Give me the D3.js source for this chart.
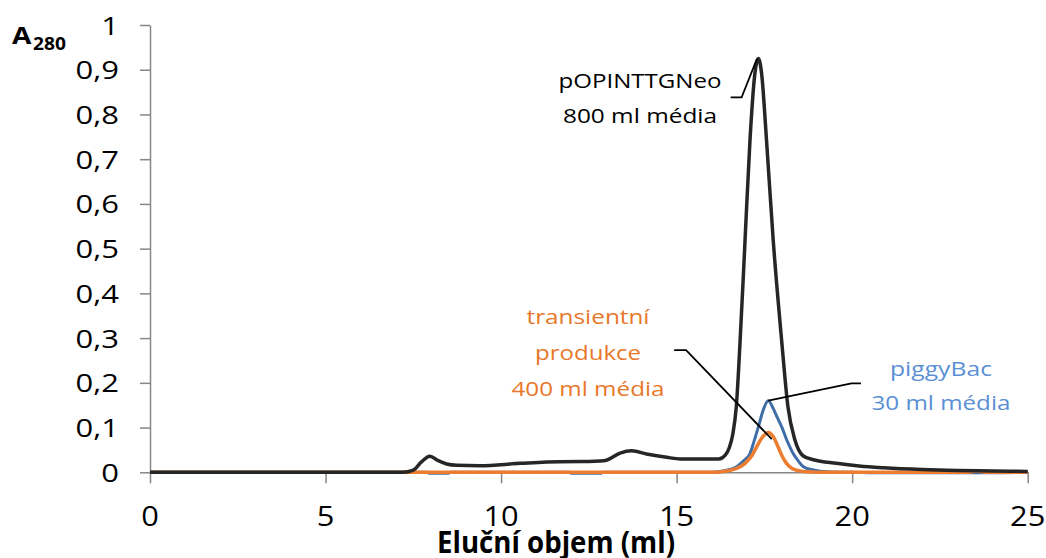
<!DOCTYPE html>
<html>
<head>
<meta charset="utf-8">
<script src="https://cdn.jsdelivr.net/npm/d3@7"></script>
<style>
  body { margin: 0; background: #fff; }
  svg { display: block; }
  text { font-family: "Open Sans", sans-serif; }
</style>
</head>
<body>
<div id="chart"></div>
<script>
// axis ticks
const xTicks = [0, 5, 10, 15, 20, 25];
const yTicks = [0, 0.1, 0.2, 0.3, 0.4, 0.5, 0.6, 0.7, 0.8, 0.9, 1];

// pOPINTTGNeo, 800 ml média
const neoVolume = [0, 7.2, 7.5, 7.74, 7.97, 8.21, 8.45, 8.74, 9.4, 10.54, 11.68, 12.5, 12.82, 13.0, 13.39, 13.72, 14.14, 14.72, 15.1, 15.66, 16.2, 16.38, 16.5, 16.6, 16.7, 16.81, 16.95, 17.09, 17.23, 17.33, 17.42, 17.56, 17.75, 17.99, 18.17, 18.37, 18.6, 18.9, 19.55, 20.2, 20.9, 22, 23, 24, 25];
const neoA280 = [0, 0, 0.005, 0.024, 0.036, 0.026, 0.0186, 0.0157, 0.0148, 0.020, 0.0237, 0.024, 0.025, 0.027, 0.043, 0.048, 0.041, 0.0335, 0.030, 0.030, 0.030, 0.038, 0.055, 0.085, 0.147, 0.296, 0.52, 0.743, 0.892, 0.925, 0.892, 0.743, 0.52, 0.296, 0.147, 0.072, 0.037, 0.028, 0.020, 0.014, 0.010, 0.006, 0.004, 0.003, 0.002];

// piggyBac, 30 ml média
const piggyVolume = [0, 7.9, 7.95, 8.5, 8.55, 11.95, 12.0, 12.85, 12.9, 16.0, 16.4, 16.71, 16.9, 17.09, 17.2, 17.33, 17.47, 17.61, 17.75, 17.87, 17.99, 18.15, 18.32, 18.47, 18.61, 18.9, 19.27, 20, 21, 22, 23.3, 24, 25];
const piggyA280 = [0, 0, -0.002, -0.002, 0, 0, -0.002, -0.002, 0, 0, 0.004, 0.0125, 0.025, 0.042, 0.068, 0.102, 0.14, 0.160, 0.143, 0.122, 0.102, 0.07, 0.042, 0.025, 0.0125, 0.005, 0.001, 0, -0.001, -0.001, -0.001, -0.001, 0];

// transientní produkce, 400 ml média
const transVolume = [0, 16.0, 16.3, 16.6, 16.95, 17.15, 17.28, 17.45, 17.61, 17.75, 17.89, 18.0, 18.13, 18.28, 18.41, 18.7, 19.0, 20, 23.3, 23.55, 23.8, 25];
const transA280 = [0, 0, 0.002, 0.006, 0.02, 0.038, 0.057, 0.079, 0.089, 0.080, 0.057, 0.037, 0.02, 0.009, 0.005, 0.001, 0, 0, 0, 0.003, 0, 0];

const neoLabel = ["pOPINTTGNeo", "800 ml média"];
const transLabel = ["transientní", "produkce", "400 ml média"];
const piggyLabel = ["piggyBac", "30 ml média"];

const width = 1046, height = 558;
const svg = d3.select("#chart").append("svg")
    .attr("width", width)
    .attr("height", height);

const x = d3.scaleLinear().domain([0, 25]).range([150, 1027.7]);
const y = d3.scaleLinear().domain([0, 1]).range([472.3, 25]);
const axisColor = "#868686";
const fmt = d => (d === 0 || d === 1) ? String(d) : d.toFixed(1).replace(".", ",");

// axes
const gx = svg.append("g")
    .attr("transform", `translate(0,${y(0)})`)
    .call(d3.axisBottom(x).tickValues(xTicks).tickSize(11).tickSizeOuter(0).tickFormat(""));
const gy = svg.append("g")
    .attr("transform", `translate(${x(0)},0)`)
    .call(d3.axisLeft(y).tickValues(yTicks).tickSize(10).tickSizeOuter(0).tickFormat(""));
[gx, gy].forEach(g => {
    g.selectAll("path, line").attr("stroke", axisColor).attr("stroke-width", 1.5);
});

svg.append("g").selectAll("text")
    .data(yTicks)
    .join("text")
    .attr("transform", d => `translate(119,${y(d) + 9.5}) scale(1.24,1)`)
    .attr("text-anchor", "end")
    .attr("font-size", 25)
    .attr("fill", "#000")
    .text(fmt);

svg.append("g").selectAll("text")
    .data(xTicks)
    .join("text")
    .attr("transform", d => `translate(${x(d)},525.5) scale(1.1,1)`)
    .attr("text-anchor", "middle")
    .attr("font-size", 28)
    .attr("fill", "#000")
    .text(d => d);

// axis titles
svg.append("text")
    .attr("transform", "translate(12,44) scale(1.17,1)")
    .attr("font-size", 24)
    .attr("font-weight", "bold")
    .text("A");
svg.append("text")
    .attr("transform", "translate(33,50) scale(1.13,1)")
    .attr("font-size", 17)
    .attr("font-weight", "bold")
    .text("280");
svg.append("text")
    .attr("x", 437)
    .attr("y", 553)
    .attr("font-size", 30)
    .attr("font-weight", "bold")
    .attr("textLength", 238)
    .attr("lengthAdjust", "spacingAndGlyphs")
    .text("Eluční objem (ml)");

// series
const series = [
    { vol: piggyVolume, a: piggyA280, color: "#3f6da6", w: 3 },
    { vol: transVolume, a: transA280, color: "#ed7d31", w: 3.5 },
    { vol: neoVolume, a: neoA280, color: "#262626", w: 3.5 }
];
const line = d3.line()
    .x(d => x(d[0]))
    .y(d => y(d[1]))
    .curve(d3.curveMonotoneX);

svg.append("g").selectAll("path")
    .data(series)
    .join("path")
    .attr("fill", "none")
    .attr("stroke", d => d.color)
    .attr("stroke-width", d => d.w)
    .attr("stroke-linejoin", "round")
    .attr("d", d => line(d.vol.map((v, i) => [v, d.a[i]])));

// annotations: anchor in data units, leader from label to peak
const annotations = [
    { lines: neoLabel, color: "#000", cx: 13.957, base: [0.8592, 0.7810], widths: [163, 154],
      leader: [[16.54, 0.838], [16.85, 0.838], [17.29, 0.925]] },
    { lines: transLabel, color: "#e8772a", cx: 12.476, base: [0.3315, 0.2511, 0.1706], widths: [123, 106, 153],
      leader: [[14.93, 0.273], [15.27, 0.273], [17.71, 0.074]] },
    { lines: piggyLabel, color: "#5a8fd4", cx: 22.53, base: [0.2153, 0.1393], widths: [102, 139],
      leader: [[20.25, 0.199], [19.98, 0.199], [17.61, 0.160]] }
];

const leader = d3.line().x(d => x(d[0])).y(d => y(d[1]));
annotations.forEach(a => {
    svg.append("path")
        .attr("fill", "none")
        .attr("stroke", "#000")
        .attr("stroke-width", 1.8)
        .attr("d", leader(a.leader));
    a.lines.forEach((t, i) => {
        svg.append("text")
            .attr("x", x(a.cx) - a.widths[i] / 2)
            .attr("y", y(a.base[i]))
            .attr("font-size", 20)
            .attr("fill", a.color)
            .attr("textLength", a.widths[i])
            .attr("lengthAdjust", "spacingAndGlyphs")
            .text(t);
    });
});
</script>
</body>
</html>
